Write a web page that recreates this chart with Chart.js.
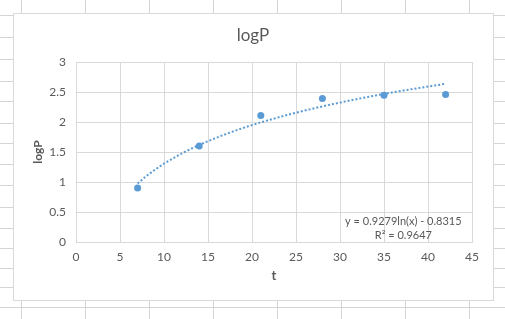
<!DOCTYPE html>
<html lang="en">
<head>
    <meta charset="UTF-8">
    <title>logP</title>
    <script src="https://cdn.jsdelivr.net/npm/chart.js"></script>
    <style>
        body { margin: 0; background: #fff; }
        canvas { display: block; }
    </style>
</head>
<body>
    <canvas id="logChart" width="505" height="319"></canvas>
    <script>
        // measured points
        const tValues = [7, 14, 21, 28, 35, 42];
        const logPValues = [0.9, 1.6, 2.11, 2.39, 2.445, 2.46];

        // log trendline (y = 0.9279ln(x) - 0.8315)
        const trendT = [7, 8, 9, 10, 12, 14, 17, 20, 24, 28, 32, 36, 42];
        const trendLogP = [0.974, 1.098, 1.207, 1.305, 1.474, 1.617, 1.797, 1.948, 2.117, 2.260, 2.384, 2.494, 2.637];

        const chartTitle = 'logP';
        const equationLines = ['y = 0.9279ln(x) - 0.8315', 'R\u00b2 = 0.9647'];

        const blue = '#5B9BD5';
        const grey = '#595959';
        const lineGrey = '#d9d9d9';
        const fontFamily = 'Lato, "Open Sans", sans-serif';

        // spreadsheet cells behind the chart + chart frame
        const sheetBackground = {
            id: 'sheetBackground',
            beforeDraw(chart) {
                const ctx = chart.ctx;
                ctx.save();
                ctx.fillStyle = '#fff';
                ctx.fillRect(0, 0, chart.width, chart.height);
                ctx.strokeStyle = '#d4d4d4';
                ctx.lineWidth = 1;
                ctx.beginPath();
                [21, 85, 149, 213, 277, 341, 405, 469].forEach(x => {
                    ctx.moveTo(x + 0.5, 0);
                    ctx.lineTo(x + 0.5, chart.height);
                });
                [15, 37, 59, 81, 101, 123, 143, 164, 185, 207, 228, 248, 268, 287, 307].forEach(y => {
                    ctx.moveTo(0, y + 0.5);
                    ctx.lineTo(chart.width, y + 0.5);
                });
                ctx.stroke();
                ctx.fillStyle = '#fff';
                ctx.fillRect(13, 13, 480, 287);
                ctx.strokeStyle = lineGrey;
                ctx.strokeRect(13.5, 13.5, 480, 287);

                // title centred on the whole frame, like Excel does
                ctx.font = '17px ' + fontFamily;
                ctx.fillStyle = grey;
                ctx.textAlign = 'center';
                ctx.textBaseline = 'middle';
                ctx.fillText(chartTitle, 253, 36);
                ctx.restore();
            }
        };

        const equationLabel = {
            id: 'equationLabel',
            afterDraw(chart) {
                const ctx = chart.ctx;
                const x = chart.scales.x.getPixelForValue(37.2);
                const y = chart.scales.y.getPixelForValue(0.35);
                ctx.save();
                ctx.font = '11px ' + fontFamily;
                ctx.fillStyle = grey;
                ctx.textAlign = 'center';
                ctx.textBaseline = 'middle';
                equationLines.forEach((line, i) => ctx.fillText(line, x, y + i * 14));
                ctx.restore();
            }
        };

        const ctx = document.getElementById('logChart').getContext('2d');
        const logChart = new Chart(ctx, {
            type: 'scatter',
            data: {
                datasets: [{
                    label: 'Log. (logP)',
                    data: trendT.map((t, i) => ({ x: t, y: trendLogP[i] })),
                    showLine: true,
                    borderColor: blue,
                    borderWidth: 2,
                    borderDash: [2, 2],
                    cubicInterpolationMode: 'monotone',
                    pointRadius: 0,
                    fill: false
                }, {
                    label: 'logP',
                    data: tValues.map((t, i) => ({ x: t, y: logPValues[i] })),
                    backgroundColor: blue,
                    borderColor: blue,
                    pointRadius: 3.5,
                    pointBorderWidth: 0
                }]
            },
            options: {
                responsive: false,
                animation: false,
                layout: {
                    padding: { top: 62, left: 13, right: 33, bottom: 19 }
                },
                plugins: {
                    legend: { display: false },
                    tooltip: { enabled: false },
                    title: { display: false }
                },
                scales: {
                    x: {
                        type: 'linear',
                        min: 0,
                        max: 45,
                        ticks: {
                            stepSize: 5,
                            color: grey,
                            padding: 8,
                            font: { family: fontFamily, size: 12 }
                        },
                        grid: { color: lineGrey, drawTicks: false },
                        border: { color: lineGrey },
                        title: {
                            display: true,
                            text: 't',
                            color: grey,
                            font: { family: fontFamily, size: 13, weight: 'bold' },
                            padding: { top: 0, bottom: 16 }
                        },
                        afterFit: scale => { scale.height = 58; }
                    },
                    y: {
                        min: 0,
                        max: 3,
                        ticks: {
                            stepSize: 0.5,
                            color: grey,
                            padding: 10,
                            font: { family: fontFamily, size: 12 },
                            callback: v => String(Number(v.toFixed(1)))
                        },
                        grid: { color: lineGrey, drawTicks: false },
                        border: { color: lineGrey },
                        title: {
                            display: true,
                            text: 'logP',
                            color: grey,
                            font: { family: fontFamily, size: 12, weight: 'bold' },
                            padding: { top: 18, bottom: 0 }
                        },
                        afterFit: scale => { scale.width = 63; }
                    }
                }
            },
            plugins: [sheetBackground, equationLabel]
        });
    </script>
</body>
</html>
